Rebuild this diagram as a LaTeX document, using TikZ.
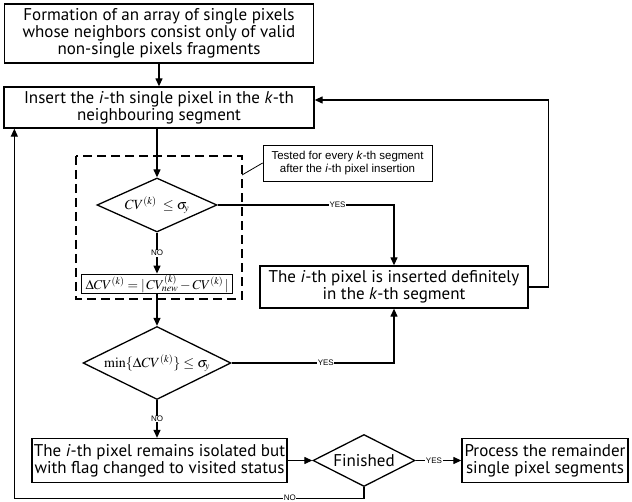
\documentclass[tikz,border=0pt]{standalone}
\usepackage{mathptmx}
\usepackage{fontspec}
\newfontfamily\boxfont{PT Sans}
\newfontfamily\labfont{Liberation Sans}
\usetikzlibrary{calc,arrows.meta,shapes.geometric}

\tikzset{
  stepbox/.style={draw,line width=1.3pt,inner sep=0pt,align=center,
    font=\boxfont\fontsize{17}{17}\selectfont},
  testnode/.style={draw,diamond,aspect=2,line width=1.3pt,inner sep=0pt,
    font=\fontsize{14}{16}\selectfont},
  answer/.style={fill=white,inner sep=0.6pt,font=\labfont\fontsize{8}{9}\selectfont},
  flow/.style={line width=1.2pt,-{Triangle[length=8pt,width=7pt]}},
}

\begin{document}
\begin{tikzpicture}[x=1pt,y=-1pt]
  \useasboundingbox (0,0) rectangle (632,502);
  % main column
  \node[stepbox,minimum width=309pt,minimum height=59pt] (form) at (159,33.5)
    {Formation of an array of single pixels\\whose neighbors consist only of valid\\non-single pixels fragments};
  \node[stepbox,minimum width=310pt,minimum height=41pt] (insert) at (159,107.5)
    {Insert the \textit{i}-th single pixel in the \textit{k}-th\\neighbouring segment};
  % region tested for every segment
  \draw[line width=2pt,dash pattern=on 9pt off 5pt] (76,156) rectangle (242,299);
  \coordinate (dashR) at (242,175);
  \node[testnode,minimum width=120pt,minimum height=54pt] (cv) at (157,205)
    {$CV^{(k)}\;\le\sigma_{\!y}$};
  \node[stepbox,line width=1.8pt,minimum width=151pt,minimum height=19pt,
    font=\fontsize{13.5}{15}\selectfont] (dcv) at (157,284)
    {$\Delta CV^{(k)}=|\,CV^{(k)}_{new}-CV^{(k)}\,|$};
  \node[draw,line width=0.8pt,inner sep=0pt,align=center,minimum width=169pt,minimum height=36pt,
    font=\labfont\fontsize{11.5}{13.5}\selectfont] (note) at (347.5,163)
    {Tested for every \textit{k}-th segment\\after the \textit{i}-th pixel insertion};
  \draw[line width=0.8pt] (note.west) -- (dashR);
  \node[testnode,minimum width=148pt,minimum height=73pt] (mincv) at (157,363)
    {$\min\{\Delta CV^{(k)}\}\le\sigma_{\!y}$};
  \node[stepbox,minimum width=268pt,minimum height=42pt] (keep) at (394,287)
    {The \textit{i}-th pixel is inserted definitely\\in the \textit{k}-th segment};
  % bottom row
  \node[stepbox,minimum width=255pt,minimum height=44pt] (iso) at (159.5,460.5)
    {The \textit{i}-th pixel remains isolated but\\with flag changed to visited status};
  \node[testnode,font=\boxfont\fontsize{17}{17}\selectfont,minimum width=102pt,minimum height=52pt]
    (fin) at (364,460.5) {Finished};
  \node[stepbox,minimum width=166pt,minimum height=44pt] (rest) at (545,460.5)
    {Process the remainder\\single pixel segments};
  \coordinate (back) at ($(insert.east)+(0,-7.5)$);
  \coordinate (loopin) at ($(insert.south west)+(11,0)$);

  % connectors
  \draw[flow] (form) -- (insert);
  \draw[flow] (insert.south -| cv.north) -- (cv.north);
  \draw[flow] (cv) -- node[answer]{NO} (dcv);
  \draw[flow] (dcv) -- (mincv);
  \draw[flow] (cv.east) -- node[answer,pos=0.68]{YES} (cv.east -| keep.north) -- (keep.north);
  \draw[flow] (mincv.east) -- node[answer,pos=0.58]{YES} (mincv.east -| keep.south) -- (keep.south);
  \draw[flow] (keep.east) -- ++(20,0) |- (back);
  \draw[flow] (mincv.south) -- node[answer]{NO} (mincv.south |- iso.north);
  \draw[flow] (iso) -- (fin);
  \draw[flow] (fin) -- node[answer,pos=0.4]{YES} (rest);
  \draw[flow] (fin.south) -- ++(0,11) -| node[answer,pos=0.106]{NO} (loopin);
\end{tikzpicture}
\end{document}
